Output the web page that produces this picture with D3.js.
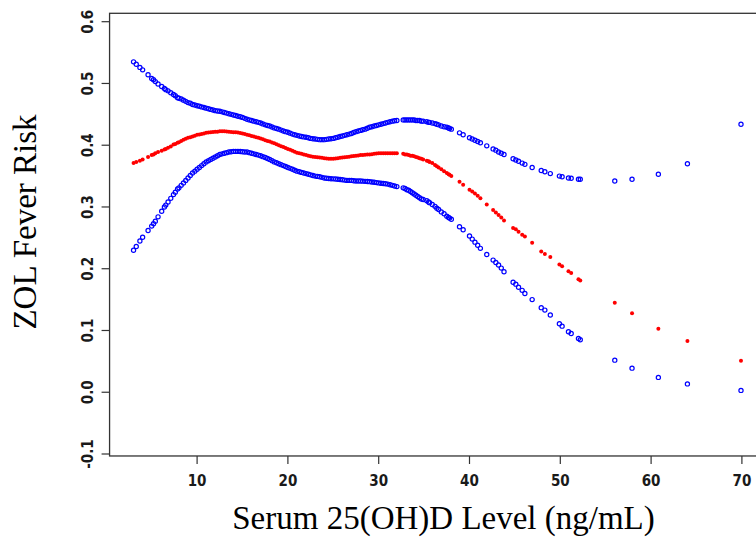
<!DOCTYPE html>
<html>
<head>
<meta charset="utf-8">
<script src="https://cdn.jsdelivr.net/npm/d3@7/dist/d3.min.js"></script>
<style>
  html, body { margin: 0; padding: 0; background: #ffffff; }
  svg { display: block; }
</style>
</head>
<body>
<svg id="chart" width="756" height="537"></svg>
<script>
// ---------- DATA ----------
const xTicks = [10, 20, 30, 40, 50, 60, 70];
const yTicks = [-0.1, 0.0, 0.1, 0.2, 0.3, 0.4, 0.5, 0.6];
const yTickLabels = ["-0.1", "0.0", "0.1", "0.2", "0.3", "0.4", "0.5", "0.6"];
const xTitle = "Serum 25(OH)D Level (ng/mL)";
const yTitle = "ZOL Fever Risk";

// Serum 25(OH)D values of the plotted points
const vitD = [
  3.0, 3.3, 3.7, 4.0, 4.6, 5.0, 5.2, 5.4, 5.7, 6.1, 6.4, 6.55, 6.8, 7.1, 7.4, 7.6, 7.85,
  8, 8.25, 8.5, 8.75, 9, 9.25, 9.5, 9.75, 10, 10.25, 10.5, 10.75, 11, 11.25, 11.5, 11.75,
  12, 12.25, 12.5, 12.75, 13, 13.25, 13.5, 13.75, 14, 14.25, 14.5, 14.75, 15, 15.25, 15.5, 15.75,
  16, 16.25, 16.5, 16.75, 17, 17.25, 17.5, 17.75, 18, 18.25, 18.5, 18.75, 19, 19.25, 19.5, 19.75,
  20, 20.25, 20.5, 20.75, 21, 21.25, 21.5, 21.75, 22, 22.25, 22.5, 22.75, 23, 23.25, 23.5, 23.75,
  24, 24.25, 24.5, 24.75, 25, 25.25, 25.5, 25.75, 26, 26.25, 26.5, 26.75, 27, 27.25, 27.5, 27.75,
  28, 28.25, 28.5, 28.75, 29, 29.25, 29.5, 29.75, 30, 30.25, 30.5, 30.75, 31, 31.25, 31.5, 31.75,
  32,
  32.7, 32.9, 33.1, 33.3, 33.5, 33.7, 33.9, 34.1, 34.3, 34.5, 34.7, 34.9, 35.3, 35.5, 35.6, 35.9,
  36.2, 36.4, 36.6, 36.9, 37.2, 37.5, 37.7, 37.8, 38.0, 38.9, 39.3, 40.0, 40.3, 40.6, 40.9, 41.2,
  41.9, 42.6, 42.9, 43.2, 43.5, 43.8, 44.8, 45.1, 45.4, 45.8, 46.1, 46.9, 47.9, 48.3, 48.9, 49.9,
  50.2, 50.9, 51.2, 52.0, 52.2,
  56, 57.9, 60.8, 64, 69.9
];

// fitted risk (red)
const riskFit = [
  .371, .373, .375, .377, .381, .384, .385, .387, .389, .391, .393, .394, .396, .398, .401, .402, .404,
  .405, .407, .409, .4105, .412, .413, .414, .4155, .417, .4175, .418, .419, .420, .4205, .421, .4215,
  .422, .422, .4225, .4225, .4226, .4223, .422, .4215, .421, .4208, .4205, .4198, .419, .418, .417, .416,
  .415, .414, .413, .412, .411, .4095, .408, .407, .406, .4045, .403, .4015, .400, .3985, .397, .3955,
  .394, .3925, .391, .3895, .388, .387, .386, .385, .384, .383, .382, .3815, .381, .3805, .380, .3795,
  .379, .3785, .378, .378, .378, .3785, .379, .3795, .380, .3805, .381, .3815, .382, .3825, .383, .3835,
  .384, .3842, .3845, .3848, .385, .3855, .386, .3865, .387, .387, .387, .387, .387, .387, .387, .387,
  .387,
  .386, .385, .385, .384, .383, .383, .382, .381, .380, .379, .378, .377, .375, .374, .373, .371,
  .368, .366, .364, .361, .358, .355, .353, .352, .350, .341, .336, .328, .325, .322, .318, .314,
  .304, .295, .291, .287, .283, .278, .266, .264, .260, .255, .252, .242, .228, .224, .219, .207,
  .204, .196, .193, .183, .181,
  .145, .128, .103, .083, .051
];

// upper confidence limit (blue)
const riskUpper = [
  .535, .531, .526, .522, .514, .508, .506, .503, .499, .495, .492, .490, .488, .485, .482, .480, .477,
  .476, .475, .473, .471, .469, .468, .466, .465, .464, .463, .462, .461, .460, .459, .458, .457,
  .456, .4555, .455, .454, .453, .452, .451, .450, .449, .448, .447, .446, .445, .4435, .442, .441,
  .440, .439, .438, .437, .436, .4345, .433, .432, .431, .4295, .428, .427, .426, .4245, .423, .422,
  .421, .4195, .418, .417, .416, .415, .414, .4135, .413, .412, .411, .4105, .410, .4095, .409, .409,
  .409, .4095, .410, .4105, .411, .412, .413, .414, .415, .416, .417, .418, .419, .4205, .422, .423,
  .424, .425, .426, .4275, .429, .430, .431, .432, .433, .434, .435, .436, .437, .438, .439, .4395,
  .440,
  .441, .441, .441, .441, .441, .441, .441, .440, .440, .440, .439, .439, .438, .437, .437, .436,
  .435, .434, .433, .431, .430, .429, .428, .427, .426, .420, .417, .412, .410, .408, .406, .404,
  .399, .394, .392, .389, .387, .385, .378, .376, .374, .371, .369, .364, .359, .357, .354, .350,
  .349, .347, .3465, .345, .345,
  .342, .345, .353, .370, .434
];

// lower confidence limit (blue)
const riskLower = [
  .230, .236, .245, .251, .262, .269, .273, .277, .284, .293, .300, .303, .308, .314, .320, .324, .329,
  .331, .335, .339, .343, .347, .351, .355, .358, .361, .364, .367, .370, .373, .375, .377, .379,
  .381, .383, .385, .386, .387, .388, .389, .3895, .390, .390, .390, .3898, .3895, .389, .389, .388,
  .387, .386, .385, .384, .383, .3815, .380, .3785, .377, .375, .373, .3715, .370, .3685, .367, .3655,
  .364, .3625, .361, .3595, .358, .357, .356, .355, .354, .353, .352, .351, .350, .3495, .349, .348,
  .347, .3465, .346, .3458, .3455, .3452, .345, .3445, .344, .3435, .343, .343, .343, .3425, .342, .342,
  .342, .3418, .3415, .3412, .341, .3405, .340, .3395, .339, .3385, .338, .3375, .337, .336, .335, .334,
  .333,
  .331, .330, .328, .327, .325, .323, .321, .319, .317, .315, .313, .312, .310, .308, .307, .304,
  .301, .298, .296, .292, .289, .285, .283, .282, .280, .268, .263, .253, .248, .243, .238, .233,
  .223, .214, .210, .206, .201, .195, .178, .175, .170, .165, .160, .150, .137, .133, .125, .111,
  .107, .098, .095, .087, .085,
  .052, .039, .024, .0135, .003
];

// ---------- DRAWING ----------
const svg = d3.select("#chart");

const x = d3.scaleLinear().domain([0, 70]).range([106.3, 741.9]);
const y = d3.scaleLinear().domain([-0.1, 0.6]).range([454, 21.7]);

const boxLeft = x(0.36), boxRight = x(72.7);
const boxTop = y(0.6136), boxBottom = y(-0.1032);

const axisColor = "#333333";
const tickFont = "'Liberation Sans Narrow', 'Arial Narrow', 'DejaVu Sans Condensed', sans-serif";

// plot box
svg.append("rect")
  .attr("x", boxLeft).attr("y", boxTop)
  .attr("width", boxRight - boxLeft).attr("height", boxBottom - boxTop)
  .attr("fill", "none").attr("stroke", axisColor).attr("stroke-width", 1.3);

// y axis ticks
const yAx = svg.append("g");
yAx.selectAll("line").data(yTicks).join("line")
  .attr("x1", boxLeft - 8).attr("x2", boxLeft)
  .attr("y1", d => y(d)).attr("y2", d => y(d))
  .attr("stroke", axisColor).attr("stroke-width", 1.2);
yAx.selectAll("text").data(yTicks).join("text")
  .attr("transform", d => `translate(${boxLeft - 16.5},${y(d)}) rotate(-90)`)
  .attr("text-anchor", "middle")
  .attr("font-family", tickFont).attr("font-weight", "bold").attr("font-size", 15)
  .attr("fill", "#1a1a1a")
  .text((d, i) => yTickLabels[i]);

// x axis ticks
const xAx = svg.append("g");
xAx.selectAll("line").data(xTicks).join("line")
  .attr("x1", d => x(d)).attr("x2", d => x(d))
  .attr("y1", boxBottom).attr("y2", boxBottom + 8)
  .attr("stroke", axisColor).attr("stroke-width", 1.2);
xAx.selectAll("text").data(xTicks).join("text")
  .attr("x", d => x(d)).attr("y", 485.5)
  .attr("text-anchor", "middle")
  .attr("font-family", tickFont).attr("font-weight", "bold").attr("font-size", 15)
  .attr("fill", "#1a1a1a")
  .text(d => d);

// points
const pts = vitD.map((v, i) => ({ v, fit: riskFit[i], up: riskUpper[i], lo: riskLower[i] }));
const plot = svg.append("g");

plot.selectAll("circle.up").data(pts).join("circle").attr("class", "up")
  .attr("cx", d => x(d.v)).attr("cy", d => y(d.up)).attr("r", 2.1)
  .attr("fill", "none").attr("stroke", "#0000ff").attr("stroke-width", 1.2);
plot.selectAll("circle.lo").data(pts).join("circle").attr("class", "lo")
  .attr("cx", d => x(d.v)).attr("cy", d => y(d.lo)).attr("r", 2.1)
  .attr("fill", "none").attr("stroke", "#0000ff").attr("stroke-width", 1.2);
plot.selectAll("circle.fit").data(pts).join("circle").attr("class", "fit")
  .attr("cx", d => x(d.v)).attr("cy", d => y(d.fit)).attr("r", 2.0)
  .attr("fill", "#ff0000");

// titles
svg.append("text")
  .attr("x", 443.5).attr("y", 529)
  .attr("text-anchor", "middle")
  .attr("font-family", "'Liberation Serif', 'Times New Roman', serif")
  .attr("font-size", 33).attr("fill", "#000")
  .text(xTitle);

svg.append("text")
  .attr("transform", "translate(36,222) rotate(-90)")
  .attr("text-anchor", "middle")
  .attr("font-family", "'Liberation Serif', 'Times New Roman', serif")
  .attr("font-size", 33).attr("fill", "#000")
  .text(yTitle);
</script>
</body>
</html>
